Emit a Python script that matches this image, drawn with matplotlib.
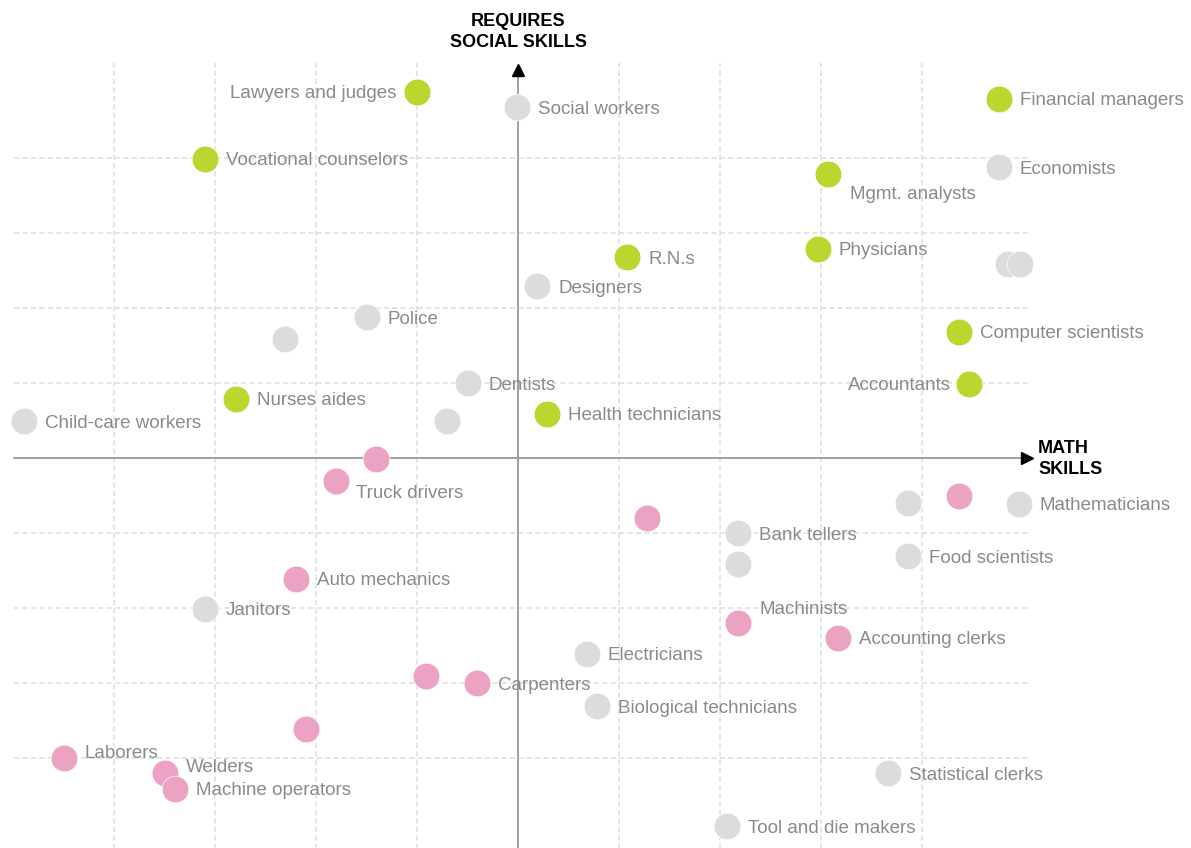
import matplotlib.pyplot as plt
from matplotlib import font_manager

# grid units: x = math skills, y = social skills
green_names = ['Lawyers and judges', 'Vocational counselors', 'Financial managers', 'Mgmt. analysts',
               'R.N.s', 'Physicians', 'Computer scientists', 'Accountants', 'Nurses aides',
               'Health technicians']
green_x = [-1.00, -3.10, 4.76, 3.07, 1.08, 2.97, 4.37, 4.47, -2.79, 0.29]
green_y = [4.88, 3.99, 4.79, 3.79, 2.68, 2.79, 1.68, 0.99, 0.79, 0.59]

gray_names = ['Social workers', 'Economists', '', '', 'Designers', 'Police', '', 'Dentists',
              'Child-care workers', '', '', 'Mathematicians', 'Bank tellers', '', 'Food scientists',
              'Janitors', 'Electricians', 'Biological technicians', 'Statistical clerks',
              'Tool and die makers']
gray_x = [-0.01, 4.76, 4.85, 4.97, 0.19, -1.50, -2.31, -0.50, -4.89, -0.70, 3.86, 4.96, 2.18,
          2.18, 3.86, -3.10, 0.68, 0.78, 3.66, 2.07]
gray_y = [4.68, 3.88, 2.59, 2.59, 2.29, 1.88, 1.59, 1.00, 0.49, 0.49, -0.60, -0.61, -1.00,
          -1.41, -1.31, -2.01, -2.61, -3.31, -4.20, -4.91]

pink_names = ['', 'Truck drivers', '', '', 'Auto mechanics', 'Machinists', 'Accounting clerks',
              '', 'Carpenters', '', 'Laborers', 'Welders', 'Machine operators']
pink_x = [-1.41, -1.80, 1.28, 4.37, -2.20, 2.18, 3.17, -0.91, -0.41, -2.10, -4.50, -3.50, -3.40]
pink_y = [-0.01, -0.31, -0.80, -0.51, -1.61, -2.20, -2.40, -2.91, -3.00, -3.61, -4.00, -4.20, -4.41]

# label placement tweaks (pixels): default is right of the dot
offsets = {
    'Lawyers and judges': (-21, -2, 'right'),
    'Accountants': (-19, -2, 'right'),
    'Mgmt. analysts': (22, -21, 'left'),
    'Truck drivers': (20, -12, 'left'),
    'Machinists': (21, 13, 'left'),
    'Laborers': (21, 5, 'left'),
    'Welders': (21, 5, 'left'),
}

installed = {f.name for f in font_manager.fontManager.ttflist}
label_font = 'Liberation Sans Narrow' if 'Liberation Sans Narrow' in installed else 'Liberation Sans'

W, H = 1191, 848
fig = plt.figure(figsize=(W / 100, H / 100), dpi=100)
ax = fig.add_axes([0, 0, 1, 1])
ax.set_xlim(-518 / 101, (W - 518) / 101)
ax.set_ylim(-(H - 458) / 75, 458 / 75)
ax.axis('off')

grid_kw = dict(color='#dedede', lw=1.1, linestyle=(0, (3.5, 2)), zorder=1)
for v in [-4, -3, -2, -1, 1, 2, 3, 4]:
    ax.plot([v, v], [-5.3, 5.27], **grid_kw)
    ax.plot([-4.99, 5.05], [v, v], **grid_kw)

ax.plot([-4.99, 5.0], [0, 0], color='#9a9a9a', lw=1.3, zorder=2)
ax.plot([0, 0], [-5.3, 5.1], color='#9a9a9a', lw=1.3, zorder=2)
ax.plot([5.04], [0], marker='>', color='black', ms=9, zorder=3)
ax.plot([0], [5.17], marker='^', color='black', ms=9, zorder=3)

ax.text(0, 5.68, 'REQUIRES\nSOCIAL SKILLS', ha='center', va='center', fontsize=13,
        fontweight='bold', family=[label_font, 'DejaVu Sans'], linespacing=1.3)
ax.text(5.15, -0.01, 'MATH\nSKILLS', ha='left', va='center', fontsize=13,
        fontweight='bold', family=[label_font, 'DejaVu Sans'], linespacing=1.3)

groups = [(gray_names, gray_x, gray_y, '#dcdcdc'),
          (green_names, green_x, green_y, '#bcd52f'),
          (pink_names, pink_x, pink_y, '#eca3c3')]
for names, xs, ys, col in groups:
    ax.scatter(xs, ys, s=370, color=col, edgecolors='white', linewidths=0.5, zorder=4)
    for name, x, y in zip(names, xs, ys):
        if not name:
            continue
        dx, dy, ha = offsets.get(name, (21, -2, 'left'))
        ax.annotate(name, (x, y), xytext=(dx, dy), textcoords='offset pixels', ha=ha,
                    va='center', fontsize=13.5, color='#8a8a8a',
                    family=[label_font, 'DejaVu Sans'], zorder=5)

fig.savefig('out.png', dpi=100)
